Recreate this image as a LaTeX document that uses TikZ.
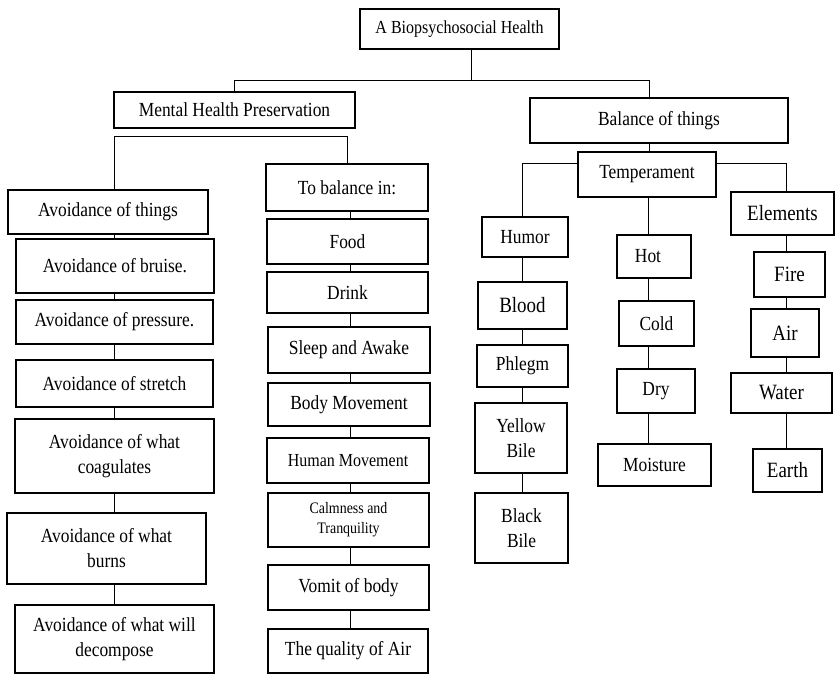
\documentclass[tikz,border=0pt]{standalone}
\usepackage{fontspec}
\setmainfont{Liberation Serif}[FakeStretch=0.87]
\newcommand\fsN{\fontsize{20}{25}\selectfont}
\newcommand\fsM{\fontsize{18.4}{24}\selectfont}
\newcommand\fsS{\fontsize{16}{20}\selectfont}
\newcommand\fsB{\fontsize{21.8}{25}\selectfont}
\tikzset{
  bx/.style={draw=black, line width=1.5pt, inner sep=0pt, align=center, fill=white},
  ln/.style={draw=black, line width=0.8pt}
}
% \bx{name}{x1}{y1}{x2}{y2}{text}{font}
\newcommand\bx[7]{\node[bx,font=#7,minimum width={(#4)-(#2)},minimum height={(#5)-(#3)}] (#1) at ({((#2)+(#4))/2},{((#3)+(#5))/2}) {#6};}
\begin{document}
\begin{tikzpicture}[x=1pt,y=-1pt]
\useasboundingbox (0,0) rectangle (836,674);
% top level
\bx{top}{360}{9}{559}{49}{A Biopsychosocial Health}{\fsM}
\bx{mhp}{114}{92}{355}{128}{Mental Health Preservation}{\fsN}
\bx{bal}{530}{98}{788}{143}{Balance of things}{\fsN}
% left column
\bx{avt}{8}{190}{208}{234}{Avoidance of things}{\fsN}
\bx{bru}{16}{239}{214}{293}{Avoidance of bruise.}{\fsN}
\bx{pre}{16}{300}{213}{344}{Avoidance of pressure.}{\fsN}
\bx{str}{16}{360}{213}{407}{Avoidance of stretch}{\fsN}
\bx{coa}{15}{419}{214}{493}{Avoidance of what\\coagulates}{\fsN}
\bx{bur}{7}{513}{206}{584}{Avoidance of what\\burns}{\fsN}
\bx{dec}{15}{605}{214}{673}{Avoidance of what will\\decompose}{\fsN}
% middle column
\bx{tob}{266}{164}{428}{211}{To balance in:}{\fsN}
\bx{food}{267}{219}{428}{264}{Food}{\fsN}
\bx{drink}{267}{272}{428}{313}{Drink}{\fsN}
\bx{sleep}{268}{327}{430}{373}{Sleep and Awake}{\fsN}
\bx{body}{268}{383}{430}{426}{Body Movement}{\fsN}
\bx{hum}{267}{438}{429}{483}{Human Movement}{\fsM}
\bx{calm}{268}{493}{429}{547}{Calmness and\\Tranquility}{\fsS}
\bx{vom}{268}{565}{429}{610}{Vomit of body}{\fsN}
\bx{qair}{268}{629}{428}{673}{The quality of Air}{\fsN}
% right side
\bx{temp}{578}{152}{716}{197}{Temperament}{\fsN}
\bx{humor}{482}{217}{568}{257}{Humor}{\fsN}
\bx{blood}{478}{282}{567}{329}{Blood}{\fsB}
\bx{phl}{477}{345}{568}{387}{Phlegm}{\fsN}
\bx{yel}{475}{403}{567}{473}{Yellow\\Bile}{\fsN}
\bx{blk}{475}{493}{568}{563}{Black\\Bile}{\fsN}
\bx{hot}{617}{235}{691}{278}{Hot\hspace{12pt}}{\fsN}
\bx{cold}{619}{301}{694}{346}{Cold}{\fsN}
\bx{dry}{617}{369}{695}{413}{Dry}{\fsN}
\bx{moi}{598}{444}{711}{486}{Moisture}{\fsN}
\bx{elem}{731}{192}{834}{235}{Elements}{\fsB}
\bx{fire}{754}{252}{825}{297}{Fire}{\fsB}
\bx{air}{751}{309}{819}{357}{Air}{\fsB}
\bx{water}{731}{373}{832}{413}{Water}{\fsB}
\bx{earth}{753}{449}{822}{492}{Earth}{\fsB}
% helper coordinates
\coordinate (j0) at (471,80);
\coordinate (j1) at (0,136);
\coordinate (lx) at (114,0);
\coordinate (mx) at (350,0);
\coordinate (bx1) at (649,0);
\coordinate (ty) at (0,163);
\coordinate (hx) at (522,0);
\coordinate (tx) at (648,0);
\coordinate (ex) at (786,0);
% connectors top
\draw[ln] (top.south -| j0) -- (j0);
\draw[ln] (j0) -| (mhp.north);
\draw[ln] (j0) -| (bal.north -| bx1);
% mental health bracket
\draw[ln] (avt.north -| lx) |- (j1 -| tob.north) -- (tob.north);
% left chain
\foreach \a/\b in {avt/bru,bru/pre,pre/str,str/coa,coa/bur,bur/dec}
  \draw[ln] (\a.south -| lx) -- (\b.north -| lx);
% middle chain
\foreach \a/\b in {tob/food,food/drink,drink/sleep,sleep/body,body/hum,hum/calm,calm/vom,vom/qair}
  \draw[ln] (\a.south -| mx) -- (\b.north -| mx);
% balance to temperament
\draw[ln] (bal.south -| bx1) -- (temp.north -| bx1);
\draw[ln] (temp.west |- ty) -| (humor.north -| hx);
\draw[ln] (temp.east |- ty) -| (elem.north -| ex);
\draw[ln] (temp.south -| tx) -- (hot.north -| tx);
% humor chain
\foreach \a/\b in {humor/blood,blood/phl,phl/yel,yel/blk}
  \draw[ln] (\a.south -| hx) -- (\b.north -| hx);
% temperament chain
\foreach \a/\b in {hot/cold,cold/dry,dry/moi}
  \draw[ln] (\a.south -| tx) -- (\b.north -| tx);
% elements chain
\foreach \a/\b in {elem/fire,fire/air,air/water,water/earth}
  \draw[ln] (\a.south -| ex) -- (\b.north -| ex);
\end{tikzpicture}
\end{document}
